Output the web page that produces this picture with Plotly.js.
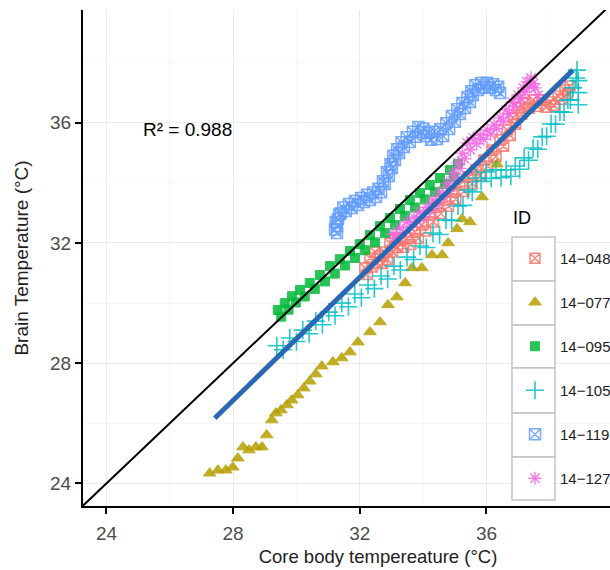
<!DOCTYPE html>
<html>
<head>
<meta charset="utf-8">
<script src="https://cdn.plot.ly/plotly-3.0.1.min.js"></script>
<style>
html, body { margin: 0; padding: 0; overflow: hidden; background: #fff; }
#wrap { width: 610px; height: 570px; overflow: hidden; }
#chart { width: 680px; height: 570px; }
</style>
</head>
<body>
<div id="wrap"><div id="chart"></div></div>
<script>
// Series names
const ids = ["14\u2212048", "14\u2212077", "14\u2212095", "14\u2212105", "14\u2212119", "14\u2212127"];

// 14-048
const x048 = [32.16,32.32,32.48,32.64,32.79,32.95,33.11,33.27,33.49,33.74,33.96,34.21,34.43,34.69,34.91,35.16,35.42,35.67,35.92,36.17,36.43,36.65,36.84,37.00,37.22,37.47,37.75,38.01,38.26,38.48,38.64,
              32.24,32.40,32.56,32.72,32.87,33.03,33.19,33.38,33.61,33.85,34.08,34.32,34.56,34.80,35.03,35.29,35.55,35.80,36.05,36.30,36.54,36.75,36.92,37.11,37.35,37.61,37.88,38.13,38.37,38.56];
const y048 = [31.17,31.50,31.70,31.57,31.70,32.00,32.16,32.10,32.16,32.36,32.60,32.93,33.19,33.43,33.69,33.93,34.19,34.43,34.76,35.09,35.43,35.76,36.16,36.49,36.66,36.76,36.76,36.69,36.89,37.09,37.22,
              30.95,31.20,31.35,31.32,31.45,31.70,31.85,31.86,31.95,32.15,32.40,32.70,32.98,33.22,33.46,33.72,33.98,34.25,34.56,34.88,35.22,35.58,35.95,36.28,36.48,36.55,36.52,36.58,36.78,36.95];

// 14-077
const x077 = [27.26,27.52,27.77,27.99,28.15,28.31,28.50,28.72,28.91,29.06,29.22,29.35,29.51,29.70,29.85,30.04,30.23,30.42,30.61,30.80,31.15,31.43,31.69,31.94,32.32,32.64,32.89,33.17,33.43,33.65,33.96,34.28,34.60,34.79,35.07,35.23,35.48,35.86,36.33];
const y077 = [24.34,24.44,24.44,24.54,24.84,25.21,25.11,25.21,25.21,25.61,26.11,26.34,26.44,26.61,26.77,26.94,27.17,27.40,27.64,27.90,28.04,28.17,28.37,28.70,29.04,29.37,29.94,30.20,30.67,31.17,31.17,31.60,31.60,32.00,32.47,32.80,32.70,33.53,34.62];

// 14-095
const x095 = [29.41,29.63,29.86,30.11,30.42,30.74,31.06,31.37,31.69,32.00,32.32,32.64,32.95,33.27,33.58,33.90,34.21,34.53,34.85,35.10,
              29.52,29.75,29.98,30.26,30.58,30.90,31.21,31.53,31.85,32.16,32.48,32.80,33.11,33.42,33.74,34.05,34.37,34.69,34.97];
const y095 = [29.77,30.00,30.23,30.44,30.67,30.93,31.23,31.46,31.73,31.96,32.26,32.56,32.83,33.13,33.43,33.66,33.93,34.16,34.43,34.63,
              29.55,29.78,30.02,30.22,30.47,30.72,30.98,31.25,31.50,31.76,32.02,32.33,32.60,32.90,33.18,33.45,33.70,33.96,34.20];

// 14-105
const x105 = [29.38,29.79,30.20,30.61,31.02,31.43,31.84,32.26,32.67,33.08,33.49,33.90,34.31,34.72,35.10,35.42,35.67,35.99,36.30,36.62,36.91,37.19,37.47,37.76,38.04,38.32,38.57,38.73,38.83,38.86,38.90,38.90,38.90,
              29.58,30.00,30.40,30.82,31.22,31.64,32.05,32.46,32.88,33.28,33.70,34.10,34.52,34.90,35.26,35.55,35.83,36.15,36.46,36.77,37.05,37.33,37.62,37.90,38.18,38.45,38.65];
const y105 = [28.58,28.84,29.10,29.40,29.70,30.00,30.30,30.60,30.90,31.23,31.53,31.90,32.33,32.76,33.23,33.76,34.16,34.36,34.43,34.43,34.56,34.83,35.16,35.53,35.96,36.36,36.76,37.16,37.49,37.75,37.40,37.00,36.60,
              28.45,28.72,28.98,29.28,29.58,29.88,30.18,30.48,30.80,31.10,31.45,31.85,32.28,32.75,33.25,33.70,34.05,34.15,34.18,34.22,34.45,34.75,35.12,35.55,35.95,36.35,36.75];

// 14-119
const x119 = [31.28,31.28,31.31,31.40,31.56,31.75,31.94,32.13,32.32,32.51,32.67,32.79,32.92,33.01,33.11,33.24,33.39,33.58,33.77,33.93,34.09,34.25,34.44,34.63,34.82,35.00,35.16,35.32,35.48,35.57,35.73,35.92,36.11,36.30,36.43,
              31.22,31.24,31.35,31.48,31.66,31.85,32.04,32.23,32.42,32.59,32.73,32.86,32.97,33.06,33.18,33.32,33.48,33.68,33.85,34.01,34.17,34.35,34.54,34.73,34.91,35.08,35.24,35.40,35.52,35.65,35.83,36.02,36.21,36.37];
const y119 = [32.33,32.56,32.79,32.99,33.06,33.16,33.26,33.36,33.43,33.53,33.69,33.96,34.23,34.49,34.76,34.99,35.19,35.36,35.53,35.69,35.56,35.43,35.46,35.56,35.79,36.03,36.29,36.49,36.69,36.92,37.09,37.16,37.16,37.09,36.99,
              32.45,32.70,32.95,33.18,33.30,33.40,33.50,33.60,33.68,33.80,34.05,34.35,34.62,34.90,35.12,35.35,35.52,35.70,35.86,35.80,35.66,35.70,35.78,35.98,36.22,36.45,36.66,36.86,37.05,37.25,37.32,37.33,37.28,37.20];

// 14-127
const x127 = [33.05,33.27,33.49,33.71,33.90,34.12,34.31,34.53,34.75,34.94,35.10,35.23,35.39,35.58,35.80,36.02,36.24,36.43,36.62,36.81,37.00,37.16,37.28,37.41,37.54,37.63,
              33.16,33.38,33.60,33.80,34.01,34.22,34.42,34.64,34.85,35.02,35.17,35.31,35.49,35.69,35.91,36.13,36.33,36.53,36.72,36.90,37.08,37.22,37.35,37.48];
const y127 = [32.30,32.50,32.70,32.86,33.03,33.19,33.43,33.69,33.99,34.33,34.66,34.99,35.33,35.49,35.59,35.76,35.93,36.16,36.43,36.69,36.92,37.16,37.36,37.49,37.16,36.92,
              32.15,32.35,32.55,32.72,32.88,33.08,33.30,33.55,33.85,34.15,34.48,34.80,35.10,35.30,35.45,35.62,35.80,36.05,36.30,36.55,36.80,37.02,37.20,37.30];

// Identity line and linear fit endpoints
const identityX = [23, 42];
const identityY = [23, 42];
const fitX = [27.42, 38.73];
const fitY = [26.17, 37.75];

const r2Label = "R\u00b2 = 0.988";
const r2Pos = [26.57, 35.79];
const legendTitle = "ID";

const xTicks = [24, 28, 32, 36];
const yTicks = [24, 28, 32, 36];

const colors = ["#F8766D", "#B79F00", "#00BA38", "#00BFC4", "#619CFF", "#F564E3"];
const symbols = ["square-x-open", "triangle-up", "square", "cross-thin-open", "square-x-open", "asterisk-open"];
const sizes = [10, 11, 9, 13, 11, 11];
const lineWidths = [1.6, 1, 1, 1.6, 1.5, 1.4];
const xs = [x048, x077, x095, x105, x119, x127];
const ys = [y048, y077, y095, y105, y119, y127];

const traces = ids.map((name, i) => ({
  type: "scatter", mode: "markers", name: name,
  x: xs[i], y: ys[i],
  legendgroup: "g" + i,
  marker: { symbol: symbols[i], size: sizes[i], color: colors[i], opacity: 0.85,
            line: { width: lineWidths[i], color: colors[i] } }
}));

traces.push({ type: "scatter", mode: "lines", x: fitX, y: fitY, showlegend: false,
  line: { color: "#2a68b5", width: 5 }, hoverinfo: "skip" });
traces.push({ type: "scatter", mode: "lines", x: identityX, y: identityY, showlegend: false,
  line: { color: "#000000", width: 2 }, hoverinfo: "skip" });

// legend key boxes (paper coordinates)
const plotLeft = 83, plotRight = 673, plotTop = 10, plotBottom = 506;
const pw = plotRight - plotLeft, ph = plotBottom - plotTop;
const px2x = p => (p - plotLeft) / pw;
const px2y = p => (plotBottom - p) / ph;
const boxEdges = [237, 281, 325, 368, 413, 457, 500];
const shapes = [];
for (let i = 0; i < 6; i++) {
  shapes.push({ type: "rect", xref: "paper", yref: "paper",
    x0: px2x(512), x1: px2x(555), y0: px2y(boxEdges[i + 1]), y1: px2y(boxEdges[i]),
    fillcolor: "#ffffff", line: { color: "#c4c4c4", width: 1.5 }, layer: "above" });
}

const axisCommon = {
  showline: true, linecolor: "#000", linewidth: 2,
  ticks: "outside", ticklen: 6, tickwidth: 2, tickcolor: "#000",
  tickfont: { family: "Liberation Sans, Arial, sans-serif", size: 19, color: "#4d4d4d" },
  showgrid: true, gridcolor: "#ebebeb", gridwidth: 1, zeroline: false
};

const layout = {
  width: 680, height: 570,
  margin: { l: plotLeft, r: 680 - plotRight, t: plotTop, b: 570 - plotBottom },
  paper_bgcolor: "#fff", plot_bgcolor: "#fff",
  font: { family: "Liberation Sans, Arial, sans-serif", size: 18, color: "#000" },
  xaxis: Object.assign({}, axisCommon, {
    range: [23.26, 41.89], tickmode: "array", tickvals: xTicks, ticktext: xTicks.map(String),
    ticklabelstandoff: 3,
    minor: { tick0: 22, dtick: 2, showgrid: true, gridcolor: "#f5f5f5", gridwidth: 0.8 },
    title: { text: "Core body tempereature (\u00b0C)", font: { size: 18.5, color: "#222" }, standoff: 7 }
  }),
  yaxis: Object.assign({}, axisCommon, {
    range: [23.25, 39.75], tickmode: "array", tickvals: yTicks, ticktext: yTicks.map(String),
    minor: { tick0: 22, dtick: 2, showgrid: true, gridcolor: "#f5f5f5", gridwidth: 0.8 },
    title: { text: "Brain Temperature (\u00b0C)", font: { size: 19, color: "#222" }, standoff: 16 }
  }),
  showlegend: true,
  legend: {
    x: px2x(510), y: px2y(242), xanchor: "left", yanchor: "top",
    bgcolor: "rgba(0,0,0,0)", borderwidth: 0,
    font: { size: 15, color: "#222" }, itemwidth: 40,
    traceorder: "grouped", tracegroupgap: 21.5
  },
  shapes: shapes,
  annotations: [
    { x: r2Pos[0], y: r2Pos[1], xref: "x", yref: "y", text: r2Label, showarrow: false,
      font: { size: 19, color: "#000" } },
    { x: px2x(511), y: px2y(218), xref: "paper", yref: "paper", xanchor: "left", yanchor: "middle",
      text: legendTitle, showarrow: false, font: { size: 18, color: "#000" } }
  ]
};

Plotly.newPlot("chart", traces, layout, { displayModeBar: false, staticPlot: true });
</script>
</body>
</html>
